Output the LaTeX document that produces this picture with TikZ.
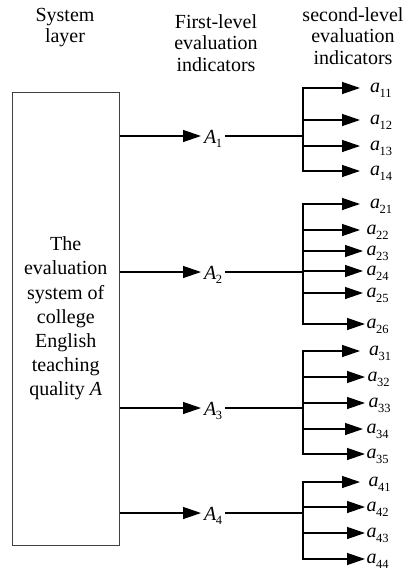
\documentclass[tikz,border=0pt]{standalone}
\usepackage{fontspec}
\setmainfont{Liberation Serif}
\usetikzlibrary{arrows.meta}
\newcommand\sublab[2]{\textit{#1}\kern-0.6pt\raisebox{-0.5ex}{\fontsize{12.5}{12.5}\selectfont #2}}
\begin{document}
\begin{tikzpicture}[x=1pt,y=-1pt,
  conn/.style={line width=1.3pt},
  arr/.style={conn,-{Triangle[length=18pt,width=12pt]}},
  hdr/.style={align=center,font=\fontsize{20}{21.5}\selectfont,inner sep=0pt},
  Anode/.style={anchor=west,inner xsep=3pt,inner ysep=0pt,text height=14pt,text depth=0pt,font=\fontsize{20}{24}\selectfont},
  anode/.style={anchor=west,inner ysep=0pt,text height=9pt,text depth=0pt,font=\fontsize{20}{24}\selectfont},
  sysbox/.style={draw=black!75,line width=1pt,align=center,inner sep=0pt,
    minimum width=106.5pt,minimum height=453pt,font=\fontsize{20}{24.2}\selectfont}
]
\useasboundingbox (0,0) rectangle (412,573);

% headers
\node[hdr] (h1) at (65,27.5) {System\\layer};
\node[hdr] (h2) at (216,43) {First-level\\evaluation\\indicators};
\node[hdr] (h3) at (353,36) {second-level\\evaluation\\indicators};

% system box
\node[sysbox] (box) at (65.75,318.5) {The\\evaluation\\system of\\college\\English\\teaching\\quality \textit{A}};

% first-level
\foreach \i/\y in {1/136,2/272,3/408,4/513}{
  \node[Anode] (A\i) at (201,\y) {\sublab{A}{\i}};
  \coordinate (b\i) at (303,\y);
  \draw[arr] (box.east |- A\i) -- (A\i.west);
  \draw[conn] (A\i.east) -- (b\i);
}

% second-level: group / index / y / arrow tip x / gap to label
\foreach \g/\n/\y/\x/\gp in {1/11/88/360/10,1/12/120/360/10,1/13/146/360/10,1/14/171/360/10,
  2/21/204/360/10,2/22/230/360/6.5,2/23/251/363/3.5,2/24/271/363/3.5,2/25/293/363/3.5,2/26/324/365/1.5,
  3/31/351/360/9,3/32/377/365/2.5,3/33/403/365/3.5,3/34/429/363/3.5,3/35/454/365/1.5,
  4/41/482/360/8.5,4/42/507/365/1.5,4/43/533/365/1.5,4/44/559/365/1.5}{
  \node[anode,inner xsep=\gp pt] (a\n) at (\x,\y) {\sublab{a}{\n}};
  \draw[arr] (b\g |- a\n) -- (a\n.west);
}

% spines
\draw[conn,line cap=rect] (b1 |- a11) -- (b1 |- a14);
\draw[conn,line cap=rect] (b2 |- a21) -- (b2 |- a26);
\draw[conn,line cap=rect] (b3 |- a31) -- (b3 |- a35);
\draw[conn,line cap=rect] (b4 |- a41) -- (b4 |- a44);
\end{tikzpicture}
\end{document}
